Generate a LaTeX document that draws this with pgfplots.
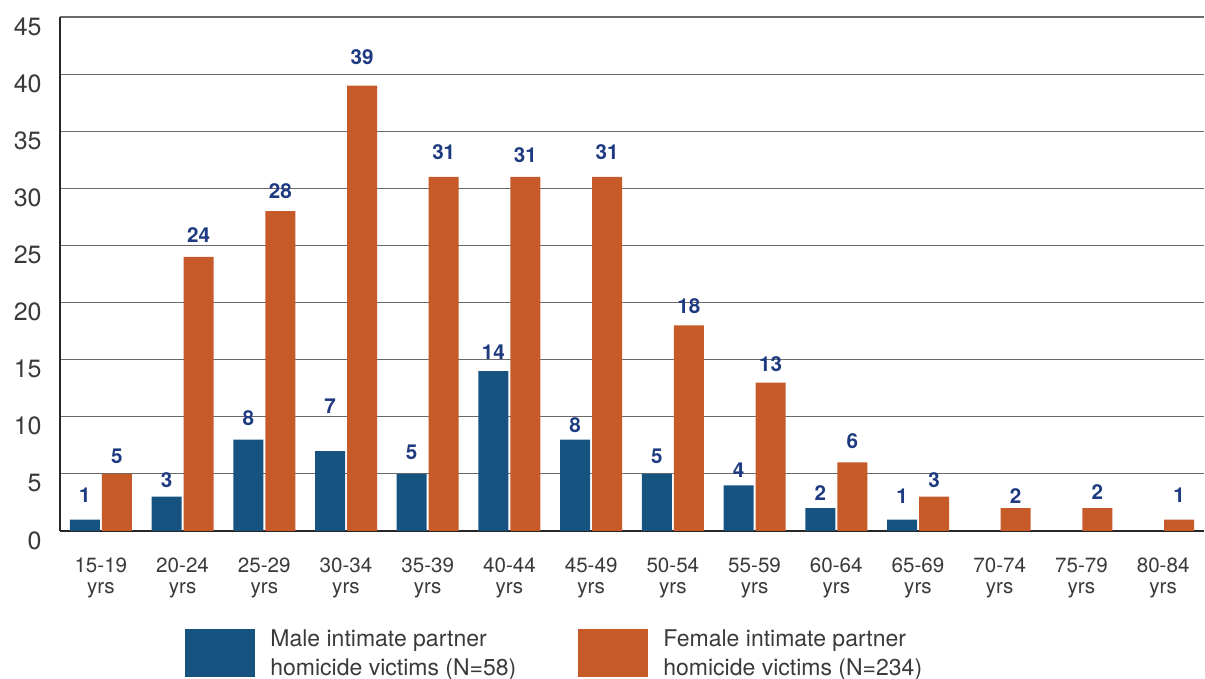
\documentclass[border=0pt]{standalone}
\usepackage{fontspec}
\setmainfont{TeX Gyre Heros}
\usepackage{pgfplots}
\usepackage{pgfplotstable}
\pgfplotsset{compat=1.18}
\definecolor{maleblue}{HTML}{175380}
\definecolor{femaleorange}{HTML}{C65A28}
\definecolor{labelblue}{HTML}{1E3A80}
\definecolor{axisgray}{HTML}{3A3A3A}
\definecolor{gridgray}{HTML}{6A6A6A}

% x = age group (1 = 15-19 ... 14 = 80-84), val = victims, ly = height of the value label
\pgfplotstableread{
x val ly
1 1 3.10
2 3 4.47
3 8 9.89
4 7 10.90
5 5 6.90
6 14 15.64
7 8 9.24
8 5 6.58
9 4 5.35
10 2 3.36
11 1 3.07
}\maledata

\pgfplotstableread{
x val ly
1 5 6.52
2 24 25.90
3 28 29.76
4 39 41.46
5 31 33.18
6 31 32.92
7 31 33.18
8 18 19.65
9 13 14.65
10 6 7.89
11 3 4.47
12 2 3.07
13 2 3.39
14 1 3.10
}\femaledata

\begin{document}
\begin{tikzpicture}
\begin{axis}[
  scale only axis,
  width=572pt, height=257pt,
  xmin=0.5, xmax=14.5, ymin=0, ymax=45,
  axis x line*=bottom, axis y line*=left,
  x axis line style={draw=black!85, line width=1pt, -},
  y axis line style={draw=black!85, line width=1.2pt, -},
  ytick={0,5,...,45},
  ytick style={draw=none},
  ymajorgrids,
  major grid style={draw=gridgray, line width=0.6pt},
  /pgf/number format/assume math mode=true,
  yticklabel style={font=\fontsize{12.5}{14}\selectfont, text=axisgray,
    anchor=east, inner sep=0pt, xshift=-9pt, yshift=-4.75pt},
  xtick={1,...,14},
  xticklabels={{15-19\\yrs},{20-24\\yrs},{25-29\\yrs},{30-34\\yrs},{35-39\\yrs},
    {40-44\\yrs},{45-49\\yrs},{50-54\\yrs},{55-59\\yrs},{60-64\\yrs},{65-69\\yrs},
    {70-74\\yrs},{75-79\\yrs},{80-84\\yrs}},
  xtick style={draw=none},
  xticklabel style={font=\fontsize{10.3}{10.5}\selectfont, text=axisgray,
    align=center, anchor=north, inner sep=0pt, yshift=-13pt},
  extra x ticks={1.5,2.5,...,13.5},
  extra x tick labels={},
  extra x tick style={tick align=inside, major tick length=6pt,
    tick style={draw=black!85, line width=1pt}},
  legend columns=2,
  legend cell align=left,
  legend style={at={(0,0)}, anchor=north west, xshift=62.5pt, yshift=-49pt,
    draw=none, fill=none, inner sep=0pt, column sep=0pt,
    nodes={inner sep=0pt},
    font=\fontsize{11.5}{14.5}\selectfont,
    text=axisgray,
    /tikz/every odd column/.append style={column sep=7.5pt}},
]
\addplot[ybar, bar width=15pt, bar shift=-8pt, fill=maleblue, draw=none,
  legend image code/.code={\fill[maleblue] (0pt,-19.1pt) rectangle (35pt,4.9pt);}]
  table[x=x, y=val] {\maledata};
\addlegendentry{\parbox[t]{154pt}{Male intimate partner\\homicide victims (N=58)}}
\addplot[ybar, bar width=15pt, bar shift=8pt, fill=femaleorange, draw=none,
  legend image code/.code={\fill[femaleorange] (0pt,-19.1pt) rectangle (35pt,4.9pt);}]
  table[x=x, y=val] {\femaledata};
\addlegendentry{\parbox[t]{154pt}{Female intimate partner\\homicide victims (N=234)}}

% value labels
\addplot[draw=none, mark=none, forget plot, nodes near coords,
  point meta=explicit symbolic,
  every node near coord/.append style={font=\fontsize{10.3}{12}\selectfont\bfseries,
    text=labelblue, anchor=center, inner sep=0pt, xshift=-8pt}]
  table[x=x, y=ly, meta=val] {\maledata};
\addplot[draw=none, mark=none, forget plot, nodes near coords,
  point meta=explicit symbolic,
  every node near coord/.append style={font=\fontsize{10.3}{12}\selectfont\bfseries,
    text=labelblue, anchor=center, inner sep=0pt, xshift=8pt}]
  table[x=x, y=ly, meta=val] {\femaledata};

\coordinate (sw) at (rel axis cs:0,0);
\coordinate (ne) at (rel axis cs:1,1);
\end{axis}
\pgfresetboundingbox
\path ([xshift=-30pt,yshift=-74pt]sw) rectangle ([xshift=0.5pt,yshift=8.5pt]ne);
\end{tikzpicture}
\end{document}
